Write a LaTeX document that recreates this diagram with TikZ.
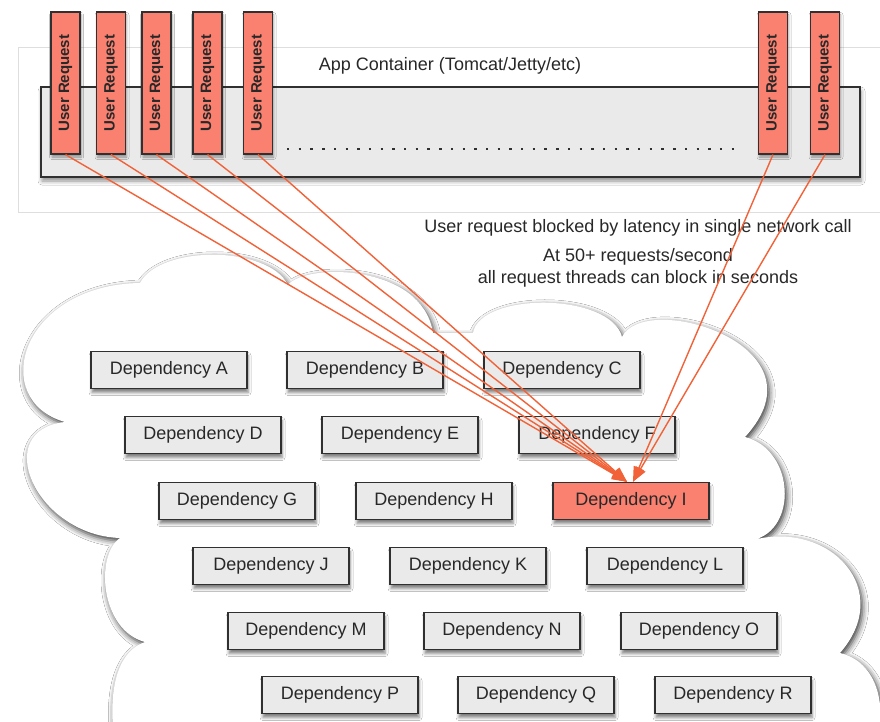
\documentclass[tikz,border=0pt]{standalone}
\usepackage{fontspec}
\setmainfont{Liberation Sans}
\usepackage{graphicx}
\usetikzlibrary{arrows.meta,shadows.blur}
\definecolor{salm}{RGB}{250,128,112}
\definecolor{arr}{RGB}{242,98,56}
\definecolor{boxg}{RGB}{234,234,234}
\definecolor{bord}{RGB}{48,48,48}
\definecolor{txt}{RGB}{40,40,40}
\definecolor{outer}{RGB}{222,222,222}
\begin{document}
\begin{tikzpicture}[x=1pt,y=-1pt,
  depbox/.style={draw=bord, line width=1.4pt, fill=boxg, minimum width=156pt, minimum height=37pt, inner sep=0pt, text=txt,
    font=\fontsize{18}{20}\selectfont,
    blur shadow={shadow xshift=1pt, shadow yshift=-4pt, shadow blur radius=3pt, shadow opacity=50}},
  hotbox/.style={depbox, fill=salm},
  reqbox/.style={draw=bord, line width=1.2pt, fill=salm, minimum width=29pt, minimum height=142pt, inner sep=0pt, text=txt,
    font=\bfseries\fontsize{15}{17}\selectfont,
    blur shadow={shadow xshift=1pt, shadow yshift=-3pt, shadow blur radius=2.5pt, shadow opacity=40}},
  lbl/.style={text=txt, font=\fontsize{18}{22}\selectfont, align=center, inner sep=0pt},
  req/.style={draw=arr, line width=1.4pt, -{Triangle[length=15pt,width=11pt]}},
]
\useasboundingbox (0,0) rectangle (880,722);
\clip (0,0) rectangle (880,722);
\fill[white] (0,0) rectangle (880,722);

% app container
\draw[outer, line width=0.8pt, fill=white] (18,47) rectangle (900,212);
\node[draw=bord, line width=1.5pt, fill=boxg, minimum width=819pt, minimum height=90pt, inner sep=0pt,
  blur shadow={shadow xshift=1pt, shadow yshift=-4pt, shadow blur radius=4pt, shadow opacity=45}] (inner) at (450.5,132) {};
\node[lbl] (title) at (450,66) {App Container (Tomcat/Jetty/etc)};
\coordinate (dotA) at (287,149);
\coordinate (dotB) at (743,149);
\draw[bord, line width=2.4pt, dash pattern=on 2.4pt off 9.3pt] (dotA) -- (dotB);

% user requests
\foreach \n/\x in {1/65.5,2/111,3/156.5,4/207.5,5/258,6/773,7/825}{
  \node[reqbox] (u\n) at (\x,83) {\rotatebox{90}{User Request}};
}

% texts
\node[lbl] (t1) at (638,228) {User request blocked by latency in single network call};
\node[lbl] (t2) at (638,268) {At 50+ requests/second\\all request threads can block in seconds};

% cloud
\path[fill=white, blur shadow={shadow xshift=2pt, shadow yshift=-3pt, shadow blur radius=6pt, shadow opacity=80}]
  (140,283) .. controls (160,245) and (268,245) .. (288,285)
  .. controls (305,263) and (422,263) .. (433,333)
  -- (473,333)
  .. controls (480,292) and (610,292) .. (622,337)
  .. controls (645,290) and (830,345) .. (745,437)
  .. controls (795,450) and (798,530) .. (753,540)
  .. controls (830,520) and (895,590) .. (840,653)
  .. controls (890,665) and (890,740) .. (860,770)
  -- (118,770) -- (118,760)
  .. controls (108,715) and (108,655) .. (145,642)
  .. controls (100,630) and (95,555) .. (120,538)
  .. controls (35,535) and (-10,430) .. (65,422)
  .. controls (-12,400) and (20,285) .. (140,283) -- cycle;

% dependencies
\node[depbox] (A) at (169,370) {Dependency A};
\node[depbox] (B) at (365,370) {Dependency B};
\node[depbox] (C) at (562,370) {Dependency C};
\node[depbox] (D) at (203,435) {Dependency D};
\node[depbox] (E) at (400,435) {Dependency E};
\node[depbox] (F) at (597,435) {Dependency F};
\node[depbox] (G) at (237,501) {Dependency G};
\node[depbox] (H) at (434,501) {Dependency H};
\node[hotbox] (I) at (631,501) {Dependency I};
\node[depbox] (J) at (271,566) {Dependency J};
\node[depbox] (K) at (468,566) {Dependency K};
\node[depbox] (L) at (665,566) {Dependency L};
\node[depbox] (M) at (306,631) {Dependency M};
\node[depbox] (N) at (502,631) {Dependency N};
\node[depbox] (O) at (699,631) {Dependency O};
\node[depbox] (P) at (340,695) {Dependency P};
\node[depbox] (Q) at (536,695) {Dependency Q};
\node[depbox] (R) at (733,695) {Dependency R};

% request arrows
\foreach \n in {1,...,5}{
  \draw[req] (u\n.south) -- ([xshift=-4pt]I.north);
}
\foreach \n in {6,7}{
  \draw[req] (u\n.south) -- ([xshift=2pt]I.north);
}
\end{tikzpicture}
\end{document}
